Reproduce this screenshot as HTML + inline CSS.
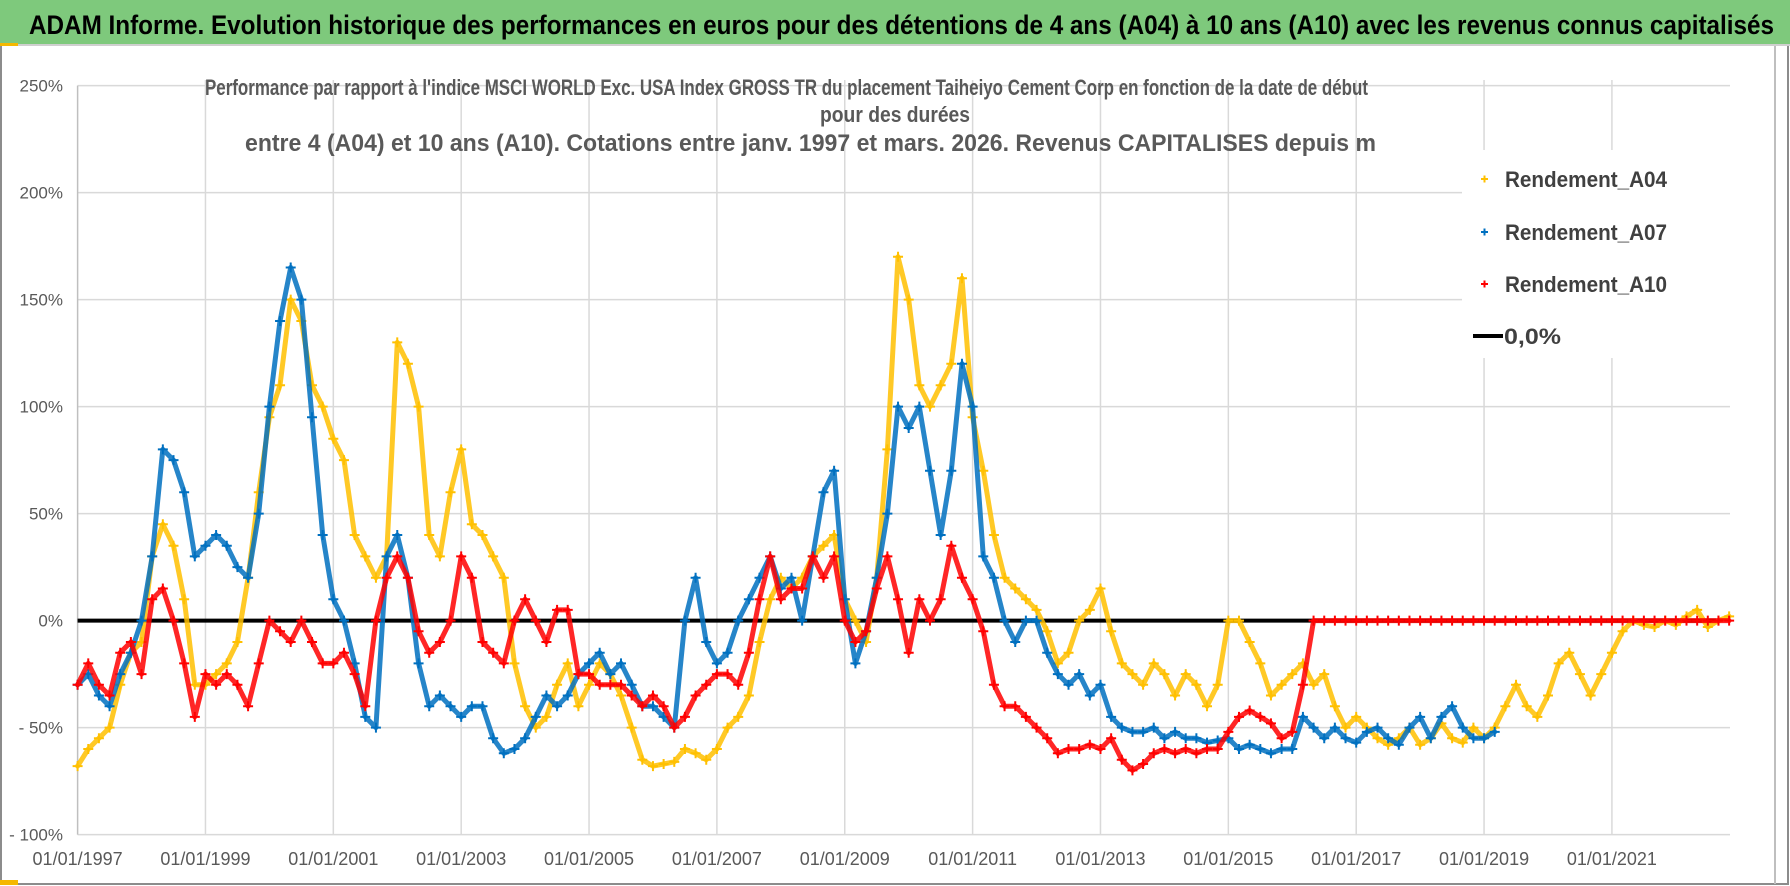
<!DOCTYPE html>
<html><head><meta charset="utf-8"><style>
html,body{margin:0;padding:0;background:#fff;}
body{width:1790px;height:886px;overflow:hidden;position:relative;font-family:"Liberation Sans",sans-serif;}
svg{position:absolute;left:0;top:0;}
.nar{font-family:"Liberation Sans Narrow","Liberation Sans",sans-serif;}
</style></head><body>
<svg id="chart" width="1790" height="886" viewBox="0 0 1790 886">
  <rect x="0" y="0" width="1790" height="886" fill="#fff"/>
  <rect x="1" y="1" width="1787" height="883" fill="none" stroke="#8c8c8c" stroke-width="2"/>
  <rect x="0" y="0" width="1790" height="44" fill="#7ec97c"/>
  <line x1="0" y1="45" x2="1790" y2="45" stroke="#cfcfcf" stroke-width="2"/>
  <rect x="0" y="43" width="18" height="3" fill="#f5b800"/>
  <rect x="0" y="880" width="18" height="5" fill="#f5b800"/>
  <line x1="1775" y1="46" x2="1775" y2="884" stroke="#bfbfbf" stroke-width="2"/>
  <text class="nar" x="29" y="34" font-weight="bold" font-size="27" fill="#000" textLength="1745" lengthAdjust="spacingAndGlyphs">ADAM Informe. Evolution historique des performances en euros pour des détentions de 4 ans (A04) à 10 ans (A10) avec les revenus connus capitalisés</text>
  <g id="grid"></g>
  <rect x="1462" y="150" width="268" height="208" fill="#fff"/>
  <g font-weight="bold" font-size="22" fill="#595959">
    <text class="nar" x="205" y="95" textLength="1163" lengthAdjust="spacingAndGlyphs">Performance par rapport à l'indice MSCI WORLD Exc. USA Index GROSS TR  du placement Taiheiyo Cement Corp en fonction de la date de début</text>
    <text class="nar" x="820" y="122" textLength="150" lengthAdjust="spacingAndGlyphs">pour des durées</text>
    <text class="nar" x="245" y="151" textLength="1131" lengthAdjust="spacingAndGlyphs" font-size="24">entre 4 (A04) et 10 ans (A10).  Cotations entre janv. 1997 et mars. 2026.  Revenus CAPITALISES depuis m</text>
  </g>
  <g id="series"></g>
  <g id="legend" font-weight="bold" font-size="22" fill="#404040">
    <g>
      <path d="M1481 179h7M1484.5 175.5v7" stroke="#FFC000" stroke-width="2"/>
      <text class="nar" x="1505" y="187" textLength="162" lengthAdjust="spacingAndGlyphs">Rendement_A04</text>
    </g>
    <g>
      <path d="M1481 232h7M1484.5 228.5v7" stroke="#0070C0" stroke-width="2"/>
      <text class="nar" x="1505" y="240" textLength="162" lengthAdjust="spacingAndGlyphs">Rendement_A07</text>
    </g>
    <g>
      <path d="M1481 284h7M1484.5 280.5v7" stroke="#FF0000" stroke-width="2"/>
      <text class="nar" x="1505" y="292" textLength="162" lengthAdjust="spacingAndGlyphs">Rendement_A10</text>
    </g>
    <g>
      <line x1="1473" y1="336" x2="1503" y2="336" stroke="#000" stroke-width="4"/>
      <text class="nar" x="1504" y="344" textLength="57" lengthAdjust="spacingAndGlyphs">0,0%</text>
    </g>
  </g>
</svg>
<script>
const yTicks = [250, 200, 150, 100, 50, 0, -50, -100];
const yTickLabels = ["250%", "200%", "150%", "100%", "50%", "0%", "- 50%", "- 100%"];
const xTickYears = [1997, 1999, 2001, 2003, 2005, 2007, 2009, 2011, 2013, 2015, 2017, 2019, 2021];
const xTickLabels = ["01/01/1997","01/01/1999","01/01/2001","01/01/2003","01/01/2005","01/01/2007","01/01/2009","01/01/2011","01/01/2013","01/01/2015","01/01/2017","01/01/2019","01/01/2021"];
const startYear = 1997;
const stepYears = 1/6;
const a04 = [
-68,-60,-55,-50,-30,-15, -10,30,45,35,10,-30, -30,-25,-20,-10,20,60,
95,110,150,140,110,100, 85,75,40,30,20,30, 130,120,100,40,30,60,
80,45,40,30,20,-20, -40,-50,-45,-30,-20,-40, -30,-20,-25,-35,-50,-65,
-68,-67,-66,-60,-62,-65, -60,-50,-45,-35,-10,10, 20,15,20,30,35,40,
10,0,-10,20,80,170, 150,110,100,110,120,160, 95,70,40,20,15,10,
5,-5,-20,-15,0,5, 15,-5,-20,-25,-30,-20, -25,-35,-25,-30,-40,-30,
0,0,-10,-20,-35,-30, -25,-20,-30,-25,-40,-50, -45,-50,-55,-58,-55,-50,
-58,-55,-48,-55,-57,-50, -55,-50,-40,-30,-40,-45, -35,-20,-15,-25,-35,-25,
-15,-5,0,-2,-3,0, -2,2,5,-3,0,2
];
const a07 = [
-30,-25,-35,-40,-25,-15, 0,30,80,75,60,30, 35,40,35,25,20,50,
100,140,165,150,95,40, 10,0,-20,-45,-50,30, 40,20,-20,-40,-35,-40,
-45,-40,-40,-55,-62,-60, -55,-45,-35,-40,-35,-25, -20,-15,-25,-20,-30,-40,
-40,-45,-50,0,20,-10, -20,-15,0,10,20,30, 15,20,0,30,60,70,
10,-20,-5,20,50,100, 90,100,70,40,70,120, 100,30,20,0,-10,0,
0,-15,-25,-30,-25,-35, -30,-45,-50,-52,-52,-50, -55,-52,-55,-55,-57,-56,
-55,-60,-58,-60,-62,-60, -60,-45,-50,-55,-50,-55, -57,-52,-50,-55,-58,-50,
-45,-55,-45,-40,-50,-55, -55,-52
];
const a10 = [
-30,-20,-30,-35,-15,-10, -25,10,15,0,-20,-45, -25,-30,-25,-30,-40,-20,
0,-5,-10,0,-10,-20, -20,-15,-25,-40,0,20, 30,20,-5,-15,-10,0,
30,20,-10,-15,-20,0, 10,0,-10,5,5,-25, -25,-30,-30,-30,-35,-40,
-35,-40,-50,-45,-35,-30, -25,-25,-30,-15,10,30, 10,15,15,30,20,30,
0,-10,-5,15,30,10, -15,10,0,10,35,20, 10,-5,-30,-40,-40,-45,
-50,-55,-62,-60,-60,-58, -60,-55,-65,-70,-67,-62, -60,-62,-60,-62,-60,-60,
-52,-45,-42,-45,-48,-55, -52,-30,0,0,0,0, 0,0,0,0,0,0,
0,0,0,0,0,0, 0,0,0,0,0,0, 0,0,0,0,0,0,
0,0,0,0,0,0, 0,0,0,0,0,0
];

const X0 = 77.6, PX_PER_YEAR = 63.93, Y0 = 620.6, PX_PER_PCT = 2.14, XEND = 1730;
function xScale(year){ return X0 + (year - startYear) * PX_PER_YEAR; }
function yScale(v){ return Y0 - v * PX_PER_PCT; }
const NS = "http://www.w3.org/2000/svg";
function mk(tag, attrs){ const e = document.createElementNS(NS, tag); for (const k in attrs) e.setAttribute(k, attrs[k]); return e; }
const NARROW = "'Liberation Sans Narrow','Liberation Sans',sans-serif";

const grid = document.getElementById('grid');
yTicks.forEach((v, i) => {
  const ln = mk('line', {x1: X0, x2: XEND, y1: yScale(v), y2: yScale(v), stroke: '#d9d9d9', 'stroke-width': 1.5});
  
  
  grid.appendChild(ln);
  const t = mk('text', {x: 63, y: yScale(v) + 6, 'text-anchor': 'end', 'font-size': 17, fill: '#595959', 'font-family': NARROW});
  t.textContent = yTickLabels[i];
  
  
  grid.appendChild(t);
});
xTickYears.forEach((yr, i) => {
  const x = xScale(yr);
  if (i > 0) {
    const ln = mk('line', {x1: x, x2: x, y1: 80, y2: yScale(-100), stroke: '#d9d9d9', 'stroke-width': 1.5});
    
    
    grid.appendChild(ln);
  }
  const t = mk('text', {x: x, y: 865, 'text-anchor': 'middle', 'font-size': 18, fill: '#595959', 'font-family': NARROW});
  t.textContent = xTickLabels[i];
  
  
  grid.appendChild(t);
});
const yAxis = mk('line', {x1: X0, x2: X0, y1: yScale(250), y2: yScale(-100), stroke: '#bfbfbf', 'stroke-width': 1.5});


grid.appendChild(yAxis);

const layer = document.getElementById('series');
const zero = mk('line', {x1: X0, x2: XEND - 14, y1: yScale(0), y2: yScale(0), stroke: '#000', 'stroke-width': 4});


layer.appendChild(zero);

function drawSeries(vals, color, name){
  const g = mk('g', {});
  
  
  const pts = vals.map((v, i) => xScale(startYear + i * stepYears).toFixed(1) + ',' + yScale(v).toFixed(1)).join(' ');
  const pl = mk('polyline', {points: pts, fill: 'none', stroke: color, 'stroke-width': 5, 'stroke-linejoin': 'round', 'stroke-linecap': 'round', opacity: 0.85});
  
  
  g.appendChild(pl);
  vals.forEach((v, i) => {
    const x = xScale(startYear + i * stepYears), y = yScale(v);
    const p = mk('path', {d: `M${x-5} ${y}h10M${x} ${y-5}v10`, stroke: color, 'stroke-width': 2});
    
    
    g.appendChild(p);
  });
  layer.appendChild(g);
}
drawSeries(a04, '#FFC000', 'series-a04');
drawSeries(a07, '#0070C0', 'series-a07');
drawSeries(a10, '#FF0000', 'series-a10');
</script>
</body></html>
